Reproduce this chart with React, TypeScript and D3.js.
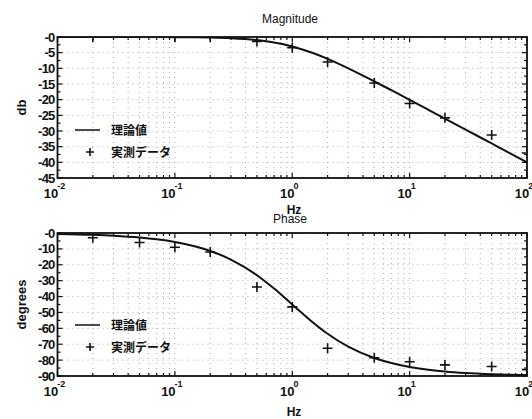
import React from "react";
import * as d3 from "d3";

const freqTheory = [0.01, 0.02, 0.03, 0.05, 0.07, 0.1, 0.15, 0.2, 0.3, 0.5, 0.7, 1, 1.5, 2, 3, 5, 7, 10, 15, 20, 30, 50, 70, 100];
const magTheory = [0, 0, -0.004, -0.011, -0.021, -0.043, -0.097, -0.17, -0.37, -0.97, -1.73, -3.01, -5.12, -6.99, -10.0, -14.15, -16.99, -20.04, -23.54, -26.03, -29.55, -33.98, -36.9, -40.0];
const phaseTheory = [-0.57, -1.15, -1.72, -2.86, -4.0, -5.71, -8.53, -11.31, -16.7, -26.57, -34.99, -45, -56.31, -63.43, -71.57, -78.69, -81.87, -84.29, -86.19, -87.14, -88.09, -88.85, -89.18, -89.43];

const magFreq = [0.02, 0.1, 0.2, 0.5, 1, 2, 5, 10, 20, 50, 100];
const magMeas = [0, 0, 0, -1.4, -3.4, -8, -14.7, -21.2, -25.8, -31.3, -37];
const phaseFreq = [0.02, 0.05, 0.1, 0.2, 0.5, 1, 2, 5, 10, 20, 50, 100];
const phaseMeas = [-3, -6, -9, -12, -34, -46.5, -72.5, -78.5, -81, -83, -84, -86];

const magTicks = [0, -5, -10, -15, -20, -25, -30, -35, -40, -45];
const phaseTicks = [0, -10, -20, -30, -40, -50, -60, -70, -80, -90];
const decades = [0.01, 0.1, 1, 10, 100];
const decadeExp = ["-2", "-1", "0", "1", "2"];

const legendLine = "理論値";
const legendMarker = "実測データ";

const FONT = "'Liberation Sans', Arial, sans-serif";
const JFONT = "'Noto Sans CJK JP', sans-serif";

type PanelProps = {
  id: string;
  top: number;
  bottom: number;
  domain: [number, number];
  ticks: number[];
  step: number;
  theory: number[];
  mFreq: number[];
  mVals: number[];
  title: string;
  titleY: number;
  ylabel: string;
  legendY: number;
  hzY: number;
};

const X0 = 57.5;
const X1 = 527;

function Panel(p: PanelProps) {
  const x = d3.scaleLog().domain([0.01, 100]).range([X0, X1]);
  const y = d3.scaleLinear().domain(p.domain).range([p.top, p.bottom]);
  const minorX: number[] = [];
  for (let e = -2; e < 2; e++) {
    for (let k = 1; k <= 9; k++) minorX.push(k * Math.pow(10, e));
  }
  minorX.push(100);
  const minorY: number[] = [];
  for (let v = p.domain[0]; v >= p.domain[1]; v -= p.step / 2) minorY.push(v);
  const line = d3
    .line<number>()
    .x((_, i) => x(freqTheory[i]))
    .y((d) => y(d))
    .curve(d3.curveMonotoneX);
  return (
    <g>
      <defs>
        <clipPath id={p.id}>
          <rect x={X0} y={p.top} width={X1 - X0} height={p.bottom - p.top} />
        </clipPath>
      </defs>
      <text x={290} y={p.titleY} textAnchor="middle" fontFamily={FONT} fontSize={12} fill="#111">
        {p.title}
      </text>
      {/* grid */}
      {minorX.map((f, i) => (
        <line key={"gx" + i} x1={x(f)} x2={x(f)} y1={p.top} y2={p.bottom} stroke="#999" strokeWidth={0.8} strokeDasharray="1,4" />
      ))}
      {p.ticks.map((t, i) => (
        <line key={"gy" + i} x1={X0} x2={X1} y1={y(t)} y2={y(t)} stroke="#999" strokeWidth={0.8} strokeDasharray="1,4" />
      ))}
      {/* frame */}
      <rect x={X0} y={p.top} width={X1 - X0} height={p.bottom - p.top} fill="none" stroke="#111" strokeWidth={1.8} />
      {/* y ticks */}
      {minorY.map((t, i) => {
        const major = i % 2 === 0;
        const len = major ? 5 : 3;
        return (
          <g key={"yt" + i}>
            <line x1={X0} x2={X0 + len} y1={y(t)} y2={y(t)} stroke="#111" strokeWidth={1.2} />
            <line x1={X1} x2={X1 - len} y1={y(t)} y2={y(t)} stroke="#111" strokeWidth={1.2} />
          </g>
        );
      })}
      {p.ticks.map((t, i) => (
        <text key={"yl" + i} x={X0 - 3} y={y(t) + 4.5} textAnchor="end" fontFamily={FONT} fontSize={13} fontWeight="bold" fill="#111" letterSpacing={-0.8}>
          {"-" + Math.abs(t)}
        </text>
      ))}
      {/* x ticks */}
      {minorX.map((f, i) => {
        const major = decades.includes(f);
        const len = major ? 5 : 3;
        return (
          <g key={"xt" + i}>
            <line x1={x(f)} x2={x(f)} y1={p.bottom} y2={p.bottom - len} stroke="#111" strokeWidth={1.2} />
            <line x1={x(f)} x2={x(f)} y1={p.top} y2={p.top + len} stroke="#111" strokeWidth={1.2} />
          </g>
        );
      })}
      {decades.map((f, i) => (
        <text key={"xl" + i} x={x(f) - 3} y={p.bottom + 20} textAnchor="middle" fontFamily={FONT} fontSize={13} fontWeight="bold" fill="#111">
          10
          <tspan dx={-1} dy={-9} fontSize={9}>
            {decadeExp[i]}
          </tspan>
        </text>
      ))}
      <text x={294} y={p.hzY} textAnchor="middle" fontFamily={FONT} fontSize={12} fontWeight="bold" fill="#111">
        Hz
      </text>
      <text transform={`translate(26,${(p.top + p.bottom) / 2}) rotate(-90)`} textAnchor="middle" fontFamily={FONT} fontSize={13} fontWeight="bold" fill="#111">
        {p.ylabel}
      </text>
      {/* data */}
      <g clipPath={`url(#${p.id})`}>
        <path d={line(p.theory) || ""} fill="none" stroke="#111" strokeWidth={2} />
        {p.mFreq.map((f, i) => (
          <path
            key={"m" + i}
            d={`M${x(f) - 5},${y(p.mVals[i])}h10M${x(f)},${y(p.mVals[i]) - 5}v10`}
            stroke="#111"
            strokeWidth={1.6}
          />
        ))}
      </g>
      {/* legend */}
      <line x1={75} x2={100} y1={p.legendY} y2={p.legendY} stroke="#111" strokeWidth={1.5} />
      <text x={111} y={p.legendY + 5} fontFamily={JFONT} fontSize={12} fontWeight="bold" fill="#111">
        {legendLine}
      </text>
      <path d={`M${86},${p.legendY + 22}h8M${90},${p.legendY + 18}v8`} stroke="#111" strokeWidth={1.6} />
      <text x={111} y={p.legendY + 27} fontFamily={JFONT} fontSize={12} fontWeight="bold" fill="#111">
        {legendMarker}
      </text>
    </g>
  );
}

export default function App() {
  return (
    <svg width={532} height={419} style={{ position: "absolute", left: 0, top: 0, background: "#fff" }}>
      <rect width={532} height={419} fill="#fff" />
      <Panel
        id="clipMag"
        top={37}
        bottom={178}
        domain={[0, -45]}
        ticks={magTicks}
        step={5}
        theory={magTheory}
        mFreq={magFreq}
        mVals={magMeas}
        title="Magnitude"
        titleY={23}
        ylabel="db"
        legendY={130}
        hzY={214}
      />
      <Panel
        id="clipPhase"
        top={233}
        bottom={376}
        domain={[0, -90]}
        ticks={phaseTicks}
        step={10}
        theory={phaseTheory}
        mFreq={phaseFreq}
        mVals={phaseMeas}
        title="Phase"
        titleY={223}
        ylabel="degrees"
        legendY={325}
        hzY={416}
      />
    </svg>
  );
}
